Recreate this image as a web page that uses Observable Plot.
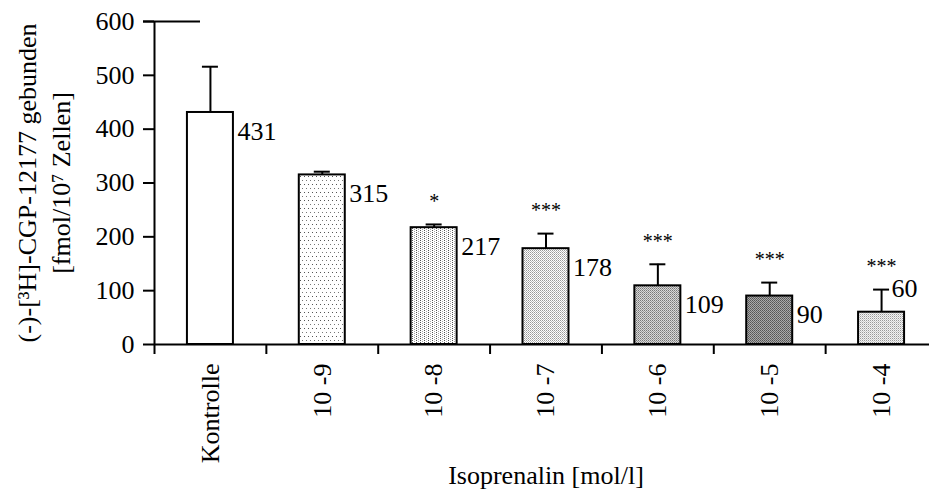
<!DOCTYPE html>
<html>
<head>
<meta charset="utf-8">
<script src="https://cdn.jsdelivr.net/npm/d3@7"></script>
<script src="https://cdn.jsdelivr.net/npm/@observablehq/plot@0.6"></script>
<style>
  html, body { margin: 0; padding: 0; background: #fff; overflow: hidden; }
</style>
</head>
<body>
<div id="chart"></div>
<script>
// Bound (-)-[3H]-CGP-12177 per treatment group
const categories = ["Kontrolle", "10 -9", "10 -8", "10 -7", "10 -6", "10 -5", "10 -4"];
const values = [431, 315, 217, 178, 109, 90, 60];
const errors = [85, 6, 6, 28, 40, 25, 42];
const significance = ["", "", "*", "***", "***", "***", "***"];
const yTicks = [0, 100, 200, 300, 400, 500, 600];
const xTitle = "Isoprenalin [mol/l]";
const yTitle = "(-)-[³H]-CGP-12177 gebunden\n[fmol/10⁷ Zellen]";

// Fill of each bar, one per group
const fills = ["white", "url(#dots-sparse)", "url(#dots-columns)", "url(#fine-light)",
               "url(#fine-mid)", "url(#fine-dark)", "url(#fine-pale)"];

const rows = categories.map((category, i) => ({
  i,
  category,
  value: values[i],
  top: values[i] + errors[i],
  stars: significance[i],
  fill: fills[i]
}));

const half = 0.2056;           // half bar width, in category units
const center = d => d.i + 0.5; // bars sit in the middle of each slot
const font = "'Liberation Serif', 'Times New Roman', serif";

const chart = Plot.plot({
  width: 929,
  height: 489,
  marginLeft: 154,
  marginRight: -8,
  marginTop: 21,
  marginBottom: 145,
  style: { fontFamily: font, fontSize: "26px", color: "black", background: "white", overflow: "hidden" },
  x: { domain: [0, categories.length] },
  y: { domain: [0, 600] },
  color: { type: "identity" },
  marks: [
    // bars
    Plot.rect(rows, {
      x1: d => center(d) - half, x2: d => center(d) + half,
      y1: 0, y2: "value",
      fill: "fill", stroke: "black", strokeWidth: 2
    }),
    // error bars (upper half only)
    Plot.ruleX(rows, { x: center, y1: "value", y2: "top", stroke: "black", strokeWidth: 2 }),
    Plot.ruleY(rows, { y: "top", x1: center, x2: center, insetLeft: -8, insetRight: -8, stroke: "black", strokeWidth: 2 }),
    // axes
    Plot.axisY({ ticks: yTicks, tickSize: 11, tickPadding: 9, label: null, strokeWidth: 2 }),
    Plot.axisX({ ticks: d3.range(categories.length + 1), tickSize: 10, tickFormat: () => "", label: null, strokeWidth: 2 }),
    Plot.ruleX([0], { y1: 0, y2: 600, stroke: "black", strokeWidth: 2 }),
    Plot.ruleY([0], { stroke: "black", strokeWidth: 2 }),
    Plot.ruleY([600], { insetLeft: -11, insetRight: 737, stroke: "black", strokeWidth: 2 }),
    // category labels
    Plot.text(rows, {
      x: center, frameAnchor: "bottom", text: "category",
      rotate: -90, textAnchor: "end", lineAnchor: "middle", dy: 19
    }),
    // value labels beside each bar
    Plot.text(rows.filter(d => d.i < categories.length - 1), {
      x: d => center(d) + half, y: "value", text: d => String(d.value),
      textAnchor: "start", lineAnchor: "middle", dx: 4, dy: 19
    }),
    Plot.text(rows.filter(d => d.i === categories.length - 1), {
      x: d => center(d) + half, y: "value", text: d => String(d.value),
      textAnchor: "start", lineAnchor: "middle", dx: -13, dy: -24
    }),
    // significance stars above error bars
    Plot.text(rows, { x: center, y: "top", text: "stars", fontSize: 20, lineAnchor: "middle", dy: -23 }),
    // axis titles
    Plot.text([xTitle], { text: d => d, frameAnchor: "bottom", textAnchor: "middle", lineAnchor: "middle", dy: 131 }),
    Plot.text([yTitle], {
      text: d => d, frameAnchor: "left", rotate: -90, textAnchor: "middle",
      lineAnchor: "middle", lineHeight: 1.31, dx: -112
    })
  ]
});

// Fill patterns for the bars
const defs = d3.select(chart).insert("defs", ":first-child");
function pattern(id, w, h, bg, dots) {
  const p = defs.append("pattern")
    .attr("id", id)
    .attr("patternUnits", "userSpaceOnUse")
    .attr("width", w)
    .attr("height", h)
    .attr("shape-rendering", "crispEdges");
  p.append("rect").attr("width", w).attr("height", h).attr("fill", bg);
  for (const [x, y, c] of dots) {
    p.append("rect").attr("x", x).attr("y", y).attr("width", 1).attr("height", 1).attr("fill", c);
  }
}
pattern("dots-sparse", 4, 8, "#fff", [[0, 0, "#555"], [2, 4, "#777"]]);
pattern("dots-columns", 4, 2, "#fff", [[0, 0, "#555"], [2, 1, "#aaa"]]);
pattern("fine-light", 2, 2, "#fff", [[0, 0, "#999"], [1, 1, "#bbb"]]);
pattern("fine-mid", 2, 2, "#d8d8d8", [[0, 0, "#777"], [1, 1, "#999"]]);
pattern("fine-dark", 2, 2, "#aaa", [[0, 0, "#555"], [1, 1, "#666"]]);
pattern("fine-pale", 2, 2, "#f2f2f2", [[0, 0, "#999"], [1, 1, "#ccc"]]);

document.getElementById("chart").append(chart);
</script>
</body>
</html>
